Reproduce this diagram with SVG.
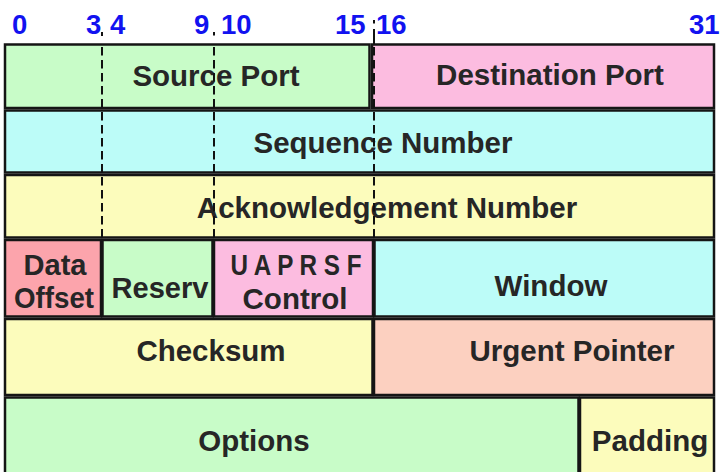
<svg xmlns="http://www.w3.org/2000/svg" width="721" height="472" viewBox="0 0 721 472">
  <style>
    .cell { stroke: #151515; stroke-width: 2.5; }
    .green { fill: #c8fcc8; }
    .pink { fill: #fcbce0; }
    .cyan { fill: #bcfcf8; }
    .yellow { fill: #fcfcbc; }
    .rose { fill: #fca4ac; }
    .salmon { fill: #fcd0c0; }
    .label { font-family: "Liberation Sans", Arial, sans-serif; font-weight: bold; font-size: 29.5px; fill: #262626; text-anchor: middle; }
    .bit { font-family: "Liberation Sans", Arial, sans-serif; font-weight: bold; font-size: 27.5px; fill: #1212f0; }
    .guide { stroke: #111; stroke-width: 2; fill: none; }
    .dash { stroke-dasharray: 8.5 4.5; }
  </style>
  <rect width="721" height="472" fill="#ffffff"/>

  <!-- bit offsets along the top -->
  <g id="bit-scale">
    <text class="bit" x="12" y="34">0</text>
    <text class="bit" x="86" y="34">3</text>
    <text class="bit" x="110" y="34">4</text>
    <text class="bit" x="194" y="34">9</text>
    <text class="bit" x="221" y="34">10</text>
    <text class="bit" x="335" y="34">15</text>
    <text class="bit" x="376" y="34">16</text>
    <text class="bit" x="689" y="34">31</text>
  </g>

  <!-- word 1 -->
  <g id="source-port">
    <rect class="cell green" x="5" y="44.5" width="364.5" height="63.5"/>
    <text class="label" x="216" y="86">Source Port</text>
  </g>
  <g id="destination-port">
    <rect class="cell pink" x="372" y="44.5" width="342" height="63.5"/>
    <text class="label" x="550" y="85">Destination Port</text>
  </g>

  <!-- word 2 -->
  <g id="sequence-number">
    <rect class="cell cyan" x="5" y="110.5" width="709" height="62"/>
    <text class="label" x="383" y="153">Sequence Number</text>
  </g>

  <!-- word 3 -->
  <g id="acknowledgement-number">
    <rect class="cell yellow" x="5" y="175" width="709" height="62.5"/>
    <text class="label" x="387" y="218">Acknowledgement Number</text>
  </g>

  <!-- word 4 -->
  <g id="data-offset">
    <rect class="cell rose" x="5" y="240" width="96" height="76.5"/>
    <text class="label" x="55" y="275" textLength="63" lengthAdjust="spacingAndGlyphs">Data</text>
    <text class="label" x="54" y="308" textLength="80" lengthAdjust="spacingAndGlyphs">Offset</text>
  </g>
  <g id="reserved">
    <rect class="cell green" x="102.5" y="240" width="110" height="76.5"/>
    <text class="label" x="160" y="298" textLength="97" lengthAdjust="spacingAndGlyphs">Reserv</text>
  </g>
  <g id="control">
    <rect class="cell pink" x="214" y="240" width="159" height="76.5"/>
    <text class="label" x="296" y="275" textLength="131" lengthAdjust="spacingAndGlyphs">U A P R S F</text>
    <text class="label" x="295" y="309">Control</text>
  </g>
  <g id="window">
    <rect class="cell cyan" x="374.5" y="240" width="339.5" height="76.5"/>
    <text class="label" x="551" y="296">Window</text>
  </g>

  <!-- word 5 -->
  <g id="checksum">
    <rect class="cell yellow" x="5" y="319" width="367.5" height="76"/>
    <text class="label" x="211" y="361">Checksum</text>
  </g>
  <g id="urgent-pointer">
    <rect class="cell salmon" x="374" y="319" width="340" height="76"/>
    <text class="label" x="572" y="361">Urgent Pointer</text>
  </g>

  <!-- word 6 -->
  <g id="options">
    <rect class="cell green" x="5" y="397.5" width="573.5" height="90"/>
    <text class="label" x="254" y="451">Options</text>
  </g>
  <g id="padding">
    <rect class="cell yellow" x="580" y="397.5" width="134" height="90"/>
    <text class="label" x="650" y="451">Padding</text>
  </g>

  <!-- dashed field boundaries through the first three words -->
  <g id="connectors">
    <line class="guide" x1="102" y1="32" x2="102" y2="36"/>
    <line class="guide dash" x1="102" y1="47" x2="102" y2="238"/>
    <line class="guide" x1="214" y1="32" x2="214" y2="35.5"/>
    <line class="guide dash" x1="214" y1="47" x2="214" y2="238"/>
    <line class="guide" x1="374" y1="20" x2="374" y2="23.5"/>
    <line class="guide" x1="374" y1="29" x2="374" y2="44"/>
    <line class="guide dash" x1="374" y1="47" x2="374" y2="238"/>
  </g>
</svg>
